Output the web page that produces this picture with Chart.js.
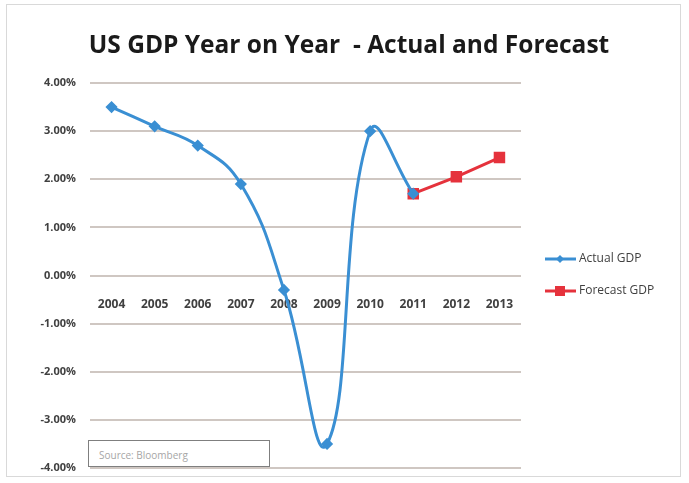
<!DOCTYPE html>
<html>
<head>
<meta charset="utf-8">
<script src="https://cdn.jsdelivr.net/npm/chart.js@4.4.1/dist/chart.umd.min.js"></script>
<style>
  body { margin: 0; background: #ffffff; }
  #wrap { position: relative; width: 689px; height: 483px; }
  #frame { position: absolute; left: 6px; top: 4px; width: 675px; height: 473px; border: 1px solid #d9d9d9; box-sizing: border-box; pointer-events: none; }
  #title { position: absolute; left: 0; top: 27px; width: 698px; text-align: center;
           font: bold 24.5px "Open Sans", sans-serif; color: #1a1a1a; white-space: pre; }
  #source { position: absolute; left: 88px; top: 440px; width: 182px; height: 27px; border: 1px solid #7f7f7f; box-sizing: border-box; background: #fff;
            font: 10px "Open Sans", sans-serif; color: #a6a6a6; padding: 7px 0 0 10px; }
</style>
</head>
<body>
<div id="wrap">
  <canvas id="gdp_chart" width="689" height="483"></canvas>
  <div id="frame"></div>
  <div id="title">US GDP Year on Year  - Actual and Forecast</div>
  <div id="source">Source: Bloomberg</div>
</div>
<script>
const years = ["2004", "2005", "2006", "2007", "2008", "2009", "2010", "2011", "2012", "2013"]
const actual_gdp = [3.5, 3.1, 2.7, 1.9, -0.3, -3.5, 3.0, 1.7, null, null]
const forecast_gdp = [null, null, null, null, null, null, null, 1.7, 2.05, 2.45]
const y_ticks = [-4, -3, -2, -1, 0, 1, 2, 3, 4]

const blue = "#3a8fd3"
const red = "#e5323c"

// legend drawn by hand so it can show line + marker like Excel
const sideLegend = {
    id: "sideLegend",
    afterDraw(chart) {
        let ctx = chart.ctx
        let items = [
            { label: "Actual GDP", color: blue, y: 259, marker: "diamond" },
            { label: "Forecast GDP", color: red, y: 291, marker: "square" }
        ]
        ctx.save()
        items.forEach(item => {
            ctx.strokeStyle = item.color
            ctx.lineWidth = 3
            ctx.beginPath()
            ctx.moveTo(545, item.y)
            ctx.lineTo(576, item.y)
            ctx.stroke()
            ctx.fillStyle = item.color
            if (item.marker == "diamond") {
                ctx.beginPath()
                ctx.moveTo(560, item.y - 4)
                ctx.lineTo(564, item.y)
                ctx.lineTo(560, item.y + 4)
                ctx.lineTo(556, item.y)
                ctx.closePath()
                ctx.fill()
            } else {
                ctx.fillRect(555, item.y - 5, 10, 10)
            }
            ctx.fillStyle = "#404040"
            ctx.font = "12px 'Open Sans', sans-serif"
            ctx.textBaseline = "middle"
            ctx.fillText(item.label, 579, item.y)
        })
        ctx.restore()
    }
}

let config = {
    "type": "line",
    "data": {
        "labels": years,
        "datasets": [
            {
                "label": "Actual GDP",
                "data": actual_gdp,
                "borderColor": blue,
                "backgroundColor": blue,
                "borderWidth": 3,
                "tension": 0.45,
                "pointStyle": "rectRot",
                "pointRadius": 4,
                "pointHoverRadius": 4
            },
            {
                "label": "Forecast GDP",
                "data": forecast_gdp,
                "borderColor": red,
                "backgroundColor": red,
                "borderWidth": 3,
                "tension": 0,
                "pointStyle": "rect",
                "pointRadius": 6,
                "pointHoverRadius": 6
            }
        ]
    },
    "options": {
        "responsive": false,
        "animation": false,
        "layout": {
            "padding": { "left": 0, "right": 168, "top": 83, "bottom": 15 }
        },
        "plugins": {
            "legend": { "display": false },
            "tooltip": { "enabled": false },
            "title": { "display": false }
        },
        "scales": {
            "x": {
                "position": { "y": 0 },
                "offset": true,
                "grid": { "display": false },
                "border": { "display": false },
                "ticks": {
                    "color": "#404040",
                    "font": { "family": "'Open Sans', sans-serif", "size": 12, "weight": "bold" },
                    "padding": 14,
                    "maxRotation": 0
                }
            },
            "y": {
                "min": -4,
                "max": 4,
                "afterFit": scale => {
                    scale.width = 90
                    scale.paddingTop = 0
                    scale.paddingBottom = 0
                },
                "afterBuildTicks": scale => { scale.ticks = y_ticks.map(v => ({ value: v })) },
                "grid": { "color": "#cfc7c2", "lineWidth": 2, "drawTicks": false },
                "border": { "display": false },
                "ticks": {
                    "color": "#404040",
                    "font": { "family": "'Open Sans', sans-serif", "size": 11, "weight": "bold" },
                    "padding": 14,
                    "callback": v => v.toFixed(2) + "%"
                }
            }
        }
    },
    "plugins": [sideLegend]
}

new Chart(document.getElementById("gdp_chart").getContext("2d"), config)
</script>
</body>
</html>
